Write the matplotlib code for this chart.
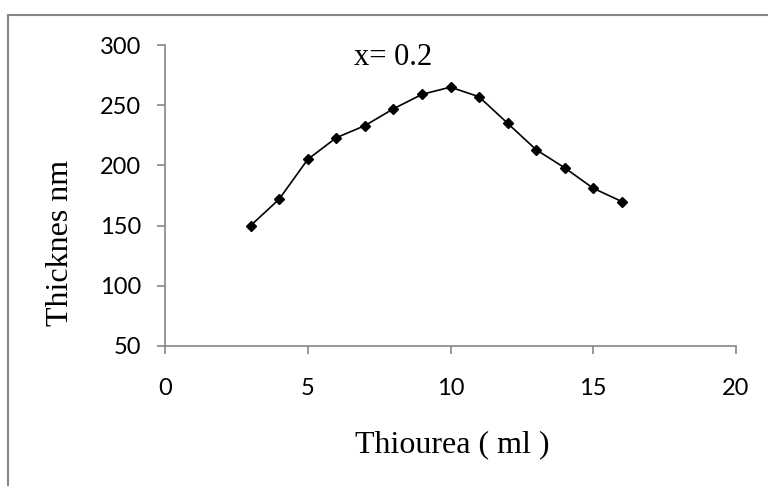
import matplotlib
matplotlib.use("Agg")
import matplotlib.pyplot as plt
from matplotlib.patches import Rectangle

# data
thiourea_ml = [3, 4, 5, 6, 7, 8, 9, 10, 11, 12, 13, 14, 15, 16]
thickness_nm = [150, 172, 205, 223, 233, 247, 259, 265, 257, 235, 213, 198, 181, 170]
x_ticks = [0, 5, 10, 15, 20]
y_ticks = [50, 100, 150, 200, 250, 300]

spine_col = "#868686"
W, H = 768, 486

fig = plt.figure(figsize=(W / 100, H / 100), dpi=100)
# outer chart frame (runs off the right and bottom edge)
fig.patches.append(Rectangle((8 / W, -0.05), 1.2, 1 - 15 / H + 0.05,
                             transform=fig.transFigure, fill=False,
                             edgecolor=spine_col, linewidth=1.5))

ax = fig.add_axes([165 / W, 1 - 346 / H, 571 / W, 301 / H])
ax.plot(thiourea_ml, thickness_nm, color="black", linewidth=1.2,
        marker="D", markersize=5, markerfacecolor="black")

ax.set_xlim(0, 20)
ax.set_ylim(50, 300)
ax.set_xticks(x_ticks)
ax.set_yticks(y_ticks)
for s in ["top", "right"]:
    ax.spines[s].set_visible(False)
for s in ["left", "bottom"]:
    ax.spines[s].set_color(spine_col)
    ax.spines[s].set_linewidth(1.2)
ax.tick_params(axis="both", direction="out", length=6, width=1.2,
               color=spine_col, labelsize=17)
ax.tick_params(axis="x", pad=17)
ax.tick_params(axis="y", pad=11)
for lab in ax.get_xticklabels() + ax.get_yticklabels():
    lab.set_fontfamily("Lato")

serif = "Liberation Serif"
ax.text(8.0, 290, "x= 0.2", ha="center", va="center", fontsize=22, family=serif)
fig.text(452 / W, 1 - 445 / H, "Thiourea ( ml )", ha="center", va="center",
         fontsize=23, family=serif)
fig.text(60 / W, 1 - 243 / H, "Thicknes nm", ha="center", va="center",
         rotation=90, fontsize=23, family=serif)

fig.savefig("out.png", dpi=100)
